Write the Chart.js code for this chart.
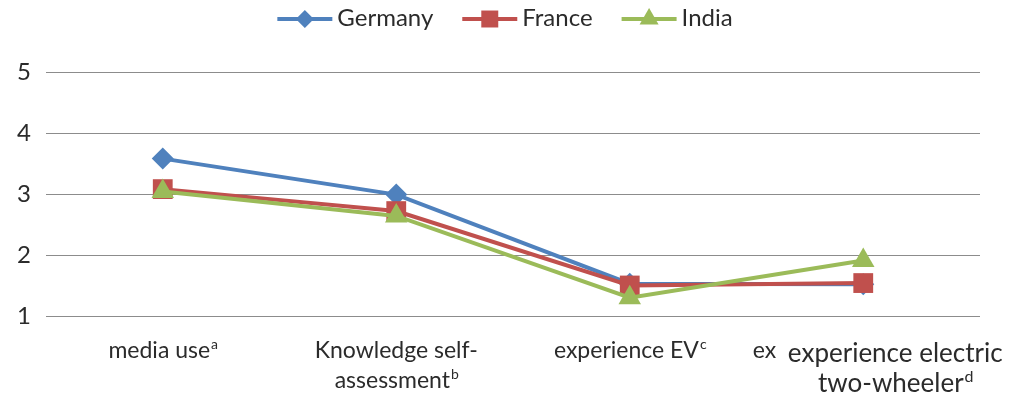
<!DOCTYPE html>
<html>
<head>
<meta charset="utf-8">
<script src="https://cdn.jsdelivr.net/npm/chart.js@4.4.0/dist/chart.umd.min.js"></script>
<style>
  html, body { margin: 0; padding: 0; background: #fff; }
  #wrap { width: 1010px; height: 401px; }
</style>
</head>
<body>
<div id="wrap"><canvas id="myChart"></canvas></div>
<script>
// categories, split in the lines they are printed on
const categories = [
  ['media use'],
  ['Knowledge self-', 'assessment'],
  ['experience EV'],
  ['experience electric', 'two-wheeler']
];
const footnotes = ['a', 'b', 'c', 'd'];

const germany = [3.58, 2.99, 1.53, 1.52];
const france = [3.08, 2.72, 1.50, 1.54];
const india = [3.04, 2.64, 1.30, 1.91];

const yTicks = [1, 2, 3, 4, 5];

const FONT = 'Lato, "Open Sans", sans-serif';
const TEXT = '#2b2b2b';

Chart.defaults.font.family = FONT;

// draws a marker shaped like the chart's point styles
function marker(ctx, style, x, y, r) {
  ctx.beginPath();
  if (style === 'rectRot') {
    ctx.moveTo(x, y - r);
    ctx.lineTo(x + r, y);
    ctx.lineTo(x, y + r);
    ctx.lineTo(x - r, y);
  } else if (style === 'rect') {
    const s = r * Math.SQRT1_2;
    ctx.rect(x - s, y - s, 2 * s, 2 * s);
  } else {
    ctx.moveTo(x, y - r);
    ctx.lineTo(x + r * 0.866, y + r / 2);
    ctx.lineTo(x - r * 0.866, y + r / 2);
  }
  ctx.closePath();
  ctx.fill();
}

// legend with line + marker, like the office one
const lineLegend = {
  id: 'lineLegend',
  afterDraw(chart) {
    const ctx = chart.ctx;
    const sets = chart.data.datasets;
    const lineW = 55, gap = 5, between = 29, y = 19;
    ctx.save();
    ctx.font = '24px ' + FONT;
    const widths = sets.map(d => lineW + gap + ctx.measureText(d.label).width);
    const total = widths.reduce((a, b) => a + b, 0) + between * (sets.length - 1);
    let x = (chart.width - total) / 2;
    sets.forEach((d, i) => {
      ctx.strokeStyle = d.borderColor;
      ctx.fillStyle = d.borderColor;
      ctx.lineWidth = 4;
      ctx.beginPath();
      ctx.moveTo(x, y);
      ctx.lineTo(x + lineW, y);
      ctx.stroke();
      marker(ctx, d.pointStyle, x + lineW / 2, y, d.legendRadius);
      ctx.fillStyle = TEXT;
      ctx.textBaseline = 'middle';
      ctx.textAlign = 'left';
      ctx.fillText(d.label, x + lineW + gap, y - 1);
      x += widths[i] + between;
    });
    ctx.restore();
  }
};

// category labels with superscript footnote letters
const xLabels = {
  id: 'xLabels',
  afterDraw(chart) {
    const ctx = chart.ctx;
    const xs = chart.scales.x;
    const bottom = chart.chartArea.bottom;
    ctx.save();
    ctx.fillStyle = TEXT;
    ctx.textBaseline = 'alphabetic';
    ctx.textAlign = 'left';
    categories.forEach((lines, i) => {
      const big = i === 3;
      const size = big ? 26 : 23;
      const sup = Math.round(size * 0.62);
      const cx = xs.getPixelForValue(i) + (big ? 32 : 0);
      lines.forEach((line, j) => {
        const last = j === lines.length - 1;
        const y = bottom + (big ? 46 : 42) + j * 30;
        ctx.font = size + 'px ' + FONT;
        const w = ctx.measureText(line).width;
        let sw = 0;
        if (last) {
          ctx.font = sup + 'px ' + FONT;
          sw = ctx.measureText(footnotes[i]).width;
        }
        const start = cx - (w + sw) / 2;
        ctx.font = size + 'px ' + FONT;
        ctx.fillText(line, start, y);
        if (last) {
          ctx.font = sup + 'px ' + FONT;
          ctx.fillText(footnotes[i], start + w + 1, y - size * 0.38);
        }
      });
    });
    // leftover of an overlapped label in the original
    ctx.font = '23px ' + FONT;
    ctx.fillText('ex', xs.getPixelForValue(2) + 123, bottom + 42);
    ctx.restore();
  }
};

const data = {
  labels: categories.map(l => l.join(' ')),
  datasets: [
    {
      label: 'Germany',
      data: germany,
      borderColor: '#4F81BD',
      backgroundColor: '#4F81BD',
      pointStyle: 'rectRot',
      pointRadius: 11,
      legendRadius: 9,
      order: 3
    },
    {
      label: 'France',
      data: france,
      borderColor: '#C0504D',
      backgroundColor: '#C0504D',
      pointStyle: 'rect',
      pointRadius: 14,
      legendRadius: 12,
      order: 2
    },
    {
      label: 'India',
      data: india,
      borderColor: '#9BBB59',
      backgroundColor: '#9BBB59',
      pointStyle: 'triangle',
      pointRadius: 13,
      legendRadius: 11,
      order: 1
    }
  ]
};

data.datasets.forEach(d => {
  d.borderWidth = 4;
  d.pointBorderWidth = 0;
  d.pointBackgroundColor = d.borderColor;
  d.pointHoverRadius = d.pointRadius;
  d.tension = 0;
});

const config = {
  type: 'line',
  data: data,
  options: {
    responsive: true,
    maintainAspectRatio: false,
    animation: false,
    events: [],
    layout: { padding: { top: 72, right: 30, left: 0, bottom: 0 } },
    plugins: {
      legend: { display: false },
      tooltip: { enabled: false }
    },
    scales: {
      x: {
        offset: true,
        grid: { display: false },
        border: { display: false },
        ticks: { display: false },
        afterFit: s => { s.height = 85; }
      },
      y: {
        min: 1,
        max: 5,
        afterBuildTicks: s => { s.ticks = yTicks.map(v => ({ value: v })); },
        ticks: { font: { size: 24 }, color: TEXT, padding: 15 },
        grid: { color: '#8C8C8C', lineWidth: 1, drawTicks: false },
        border: { display: false },
        afterFit: s => { s.width = 46; }
      }
    }
  },
  plugins: [lineLegend, xLabels]
};

const myChart = new Chart(document.getElementById('myChart'), config);
</script>
</body>
</html>
